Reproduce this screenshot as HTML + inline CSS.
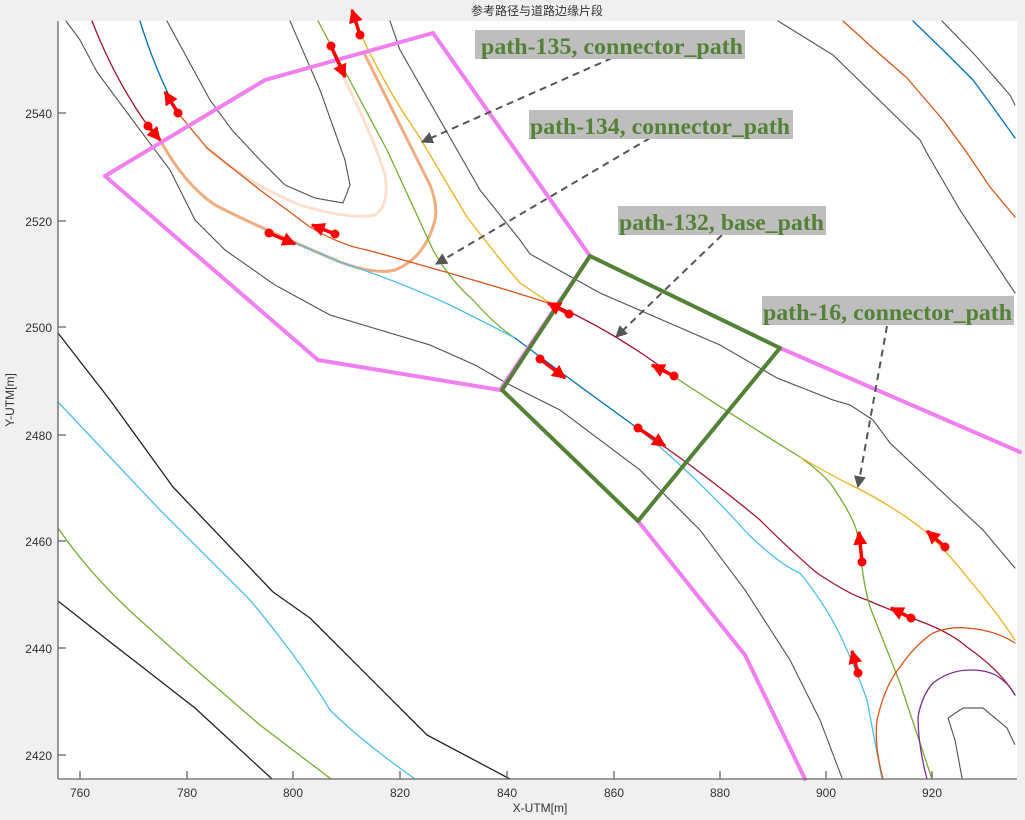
<!DOCTYPE html>
<html><head><meta charset="utf-8"><style>
html,body{margin:0;padding:0;background:#f0f0f0;}
svg{display:block;}
.t{font-family:"Liberation Sans","Noto Sans CJK SC",sans-serif;font-size:12px;fill:#333;}
.a{font-family:"Liberation Serif",serif;font-weight:bold;font-size:23px;fill:#538135;}
</style></head><body>
<svg width="1025" height="820" viewBox="0 0 1025 820" xmlns="http://www.w3.org/2000/svg">
<defs>
<marker id="ah" viewBox="0 0 10 10" refX="9" refY="5" markerWidth="4" markerHeight="4" orient="auto"><path d="M0,0 L10,5 L0,10 z" fill="#ff0000"/></marker>
<marker id="gh" viewBox="0 0 10 10" refX="9" refY="5" markerWidth="6" markerHeight="6" orient="auto"><path d="M0,0 L10,5 L0,10 z" fill="#555"/></marker>
</defs>
<rect x="0" y="0" width="1025" height="820" fill="#f0f0f0"/>
<rect x="58" y="21" width="959" height="758" fill="#fff"/>
<text x="537" y="15" text-anchor="middle" class="t" style="font-size:12px">参考路径与道路边缘片段</text>
<g fill="none" stroke-linejoin="round" stroke-linecap="round">
<g stroke="#555" stroke-width="1.2" stroke-dasharray="1.5 1">
<polyline points="66,21 80,40 97,72 140,130 170,170 195,220 225,250 275,285 330,315 380,330 430,345 475,365 510,385 560,410 600,440 640,470 700,530 745,590 790,660 820,720 842,778"/>
<polyline points="167,21 180,45 210,100 232,130 260,160 285,185 315,198 343,203 350,185 345,160 320,90 290,21"/>
<polyline points="390,21 400,50 440,120 480,190 520,240 530,254 600,293 720,345 777,378 833,400 850,405 873,420 890,443 940,490 983,530 1015,568"/>
<polyline points="778,21 833,55 920,140 928,155 960,210 1015,293"/>
<polyline points="942,21 975,55 1010,95 1015,105"/>
<polyline points="962,778 955,740 948,718 963,708 983,708 1007,728 1015,745"/>
</g>
<polyline stroke="#222" stroke-width="1.3" points="58,333 110,400 173,487 273,592 310,618 427,735 510,779"/>
<polyline stroke="#222" stroke-width="1.3" points="58,601 105,638 195,708 272,779"/>
<path stroke="#4dbeee" stroke-width="1.3" d="M58,402 L160,510 L250,600 Q300,660 330,710 Q360,740 415,779"/>
<path stroke="#77ac30" stroke-width="1.3" d="M58,528 Q90,575 140,620 Q190,665 260,725 L331,779"/>
<polyline stroke="#d95319" stroke-width="1.3" points="843,21 875,50 907,78 943,120 965,150 990,187 1015,217"/>
<polyline stroke="#0072bd" stroke-width="1.3" points="913,21 945,52 973,80 995,110 1015,138"/>
<path stroke="#fbe0d0" stroke-width="3" d="M207,148 Q250,185 300,205 Q350,220 375,215 Q390,205 385,175 Q375,140 340,70"/>
<path stroke="#f0ad80" stroke-width="3" d="M160,140 Q185,185 215,205 Q260,228 340,262 Q375,275 395,270 Q425,258 435,220 Q438,205 430,185 L365,55"/>
<path stroke="#a2142f" stroke-width="1.3" d="M92,21 Q115,80 148,126"/>
<path stroke="#0072bd" stroke-width="1.3" d="M140,21 Q155,70 178,113"/>
<path stroke="#d95319" stroke-width="1.3" d="M178,113 L207,148 L260,190 L310,227 Q340,245 367,250 Q440,270 507,290 L555,305"/>
<path stroke="#77ac30" stroke-width="1.3" d="M318,21 Q360,100 387,150 Q410,200 433,250 Q450,280 473,300 Q495,325 515,338"/>
<path stroke="#edb120" stroke-width="1.3" d="M362,37 Q390,95 417,133 Q445,180 467,217 Q500,260 520,283 L550,303"/>
<path stroke="#4dbeee" stroke-width="1.3" d="M265,230 Q300,245 340,262 Q400,282 450,305 Q490,325 515,338"/>
<path stroke="#0072bd" stroke-width="1.3" d="M515,338 Q560,372 640,430"/>
<path stroke="#4dbeee" stroke-width="1.3" d="M640,430 Q700,480 747,533 Q780,565 800,573 Q830,610 847,650 Q862,685 867,700 L882,779"/>
<path stroke="#a2142f" stroke-width="1.3" d="M555,305 Q620,335 673,376"/>
<path stroke="#a2142f" stroke-width="1.3" d="M640,430 Q700,470 760,520 Q790,550 817,573 Q850,595 867,600 Q890,610 917,620 Q950,632 967,647 Q1000,670 1015,695"/>
<path stroke="#77ac30" stroke-width="1.3" d="M673,376 Q740,420 800,457 Q825,475 833,487 Q855,520 857,533 Q862,560 862,567 Q865,590 870,607 L900,683 L932,779"/>
<path stroke="#edb120" stroke-width="1.3" d="M800,457 Q830,475 857,488 Q900,510 927,533 Q950,555 967,577 Q995,610 1015,640"/>
<path stroke="#d95319" stroke-width="1.3" d="M883,779 Q874,745 877,720 Q885,685 900,667 Q915,645 933,633 Q950,626 967,628 Q995,630 1015,643"/>
<path stroke="#7e2f8e" stroke-width="1.3" d="M927,779 Q918,745 918,717 Q922,695 933,683 Q950,670 970,670 Q990,670 1000,678 Q1010,685 1015,695"/>
<polyline stroke="#f07ff0" stroke-width="4" points="105,176 265,80 433,33 590,256"/>
<polyline stroke="#f07ff0" stroke-width="4" points="105,176 318,360 500,390 590,256"/>
<polyline stroke="#f07ff0" stroke-width="4" points="780,348 1020,452"/>
<polyline stroke="#f07ff0" stroke-width="4" points="638,521 745,655 805,779"/>
<polygon stroke="#538135" stroke-width="4" points="590,256 780,348 638,521 502,390"/>
</g>
<g stroke="#ff0000" stroke-width="3.5" fill="#ff0000" marker-end="url(#ah)">
<line x1="360" y1="35" x2="352" y2="10"/>
<line x1="331" y1="46" x2="345" y2="77"/>
<line x1="178" y1="113" x2="165" y2="92"/>
<line x1="148" y1="126" x2="160" y2="140"/>
<line x1="269" y1="233" x2="295" y2="244"/>
<line x1="335" y1="234" x2="312" y2="225"/>
<line x1="569" y1="314" x2="548" y2="303"/>
<line x1="540" y1="359" x2="565" y2="378"/>
<line x1="674" y1="376" x2="652" y2="365"/>
<line x1="638" y1="428" x2="665" y2="446"/>
<line x1="862" y1="562" x2="859" y2="532"/>
<line x1="945" y1="547" x2="927" y2="531"/>
<line x1="911" y1="618" x2="891" y2="608"/>
<line x1="858" y1="673" x2="852" y2="651"/>
</g>
<g fill="#ff0000">
<circle cx="360" cy="35" r="4.5"/><circle cx="331" cy="46" r="4.5"/><circle cx="178" cy="113" r="4.5"/><circle cx="148" cy="126" r="4.5"/>
<circle cx="269" cy="233" r="4.5"/><circle cx="335" cy="234" r="4.5"/><circle cx="569" cy="314" r="4.5"/><circle cx="540" cy="359" r="4.5"/>
<circle cx="674" cy="376" r="4.5"/><circle cx="638" cy="428" r="4.5"/><circle cx="862" cy="562" r="4.5"/><circle cx="945" cy="547" r="4.5"/>
<circle cx="911" cy="618" r="4.5"/><circle cx="858" cy="673" r="4.5"/>
</g>
<g stroke="#555" stroke-width="2" stroke-dasharray="7 5" fill="none" marker-end="url(#gh)">
<line x1="612" y1="58" x2="422" y2="142"/>
<line x1="650" y1="138" x2="436" y2="264"/>
<line x1="722" y1="235" x2="616" y2="337"/>
<line x1="887" y1="326" x2="858" y2="487"/>
</g>
<g>
<rect x="475" y="30" width="270" height="29" fill="#bebebe"/>
<text x="481" y="54" class="a" textLength="262" lengthAdjust="spacingAndGlyphs">path-135, connector_path</text>
<rect x="529" y="110" width="264" height="29" fill="#bebebe"/>
<text x="530" y="134" class="a" textLength="260" lengthAdjust="spacingAndGlyphs">path-134, connector_path</text>
<rect x="618" y="206" width="208" height="29" fill="#bebebe"/>
<text x="619" y="230" class="a" textLength="205" lengthAdjust="spacingAndGlyphs">path-132, base_path</text>
<rect x="762" y="296" width="252" height="29" fill="#bebebe"/>
<text x="763" y="320" class="a" textLength="249" lengthAdjust="spacingAndGlyphs">path-16, connector_path</text>
</g>
<g stroke="#666" stroke-width="1.3">
<line x1="58" y1="21" x2="58" y2="779"/>
<line x1="58" y1="779" x2="1017" y2="779"/>
<line x1="80" y1="779" x2="80" y2="771"/><line x1="187" y1="779" x2="187" y2="771"/><line x1="293" y1="779" x2="293" y2="771"/><line x1="400" y1="779" x2="400" y2="771"/><line x1="507" y1="779" x2="507" y2="771"/><line x1="614" y1="779" x2="614" y2="771"/><line x1="720" y1="779" x2="720" y2="771"/><line x1="826" y1="779" x2="826" y2="771"/><line x1="932" y1="779" x2="932" y2="771"/>
<line x1="58" y1="113" x2="66" y2="113"/><line x1="58" y1="221" x2="66" y2="221"/><line x1="58" y1="327" x2="66" y2="327"/><line x1="58" y1="435" x2="66" y2="435"/><line x1="58" y1="541" x2="66" y2="541"/><line x1="58" y1="648" x2="66" y2="648"/><line x1="58" y1="755" x2="66" y2="755"/>
</g>
<g class="t" text-anchor="middle">
<text x="80" y="797">760</text><text x="187" y="797">780</text><text x="293" y="797">800</text><text x="400" y="797">820</text><text x="507" y="797">840</text><text x="614" y="797">860</text><text x="720" y="797">880</text><text x="826" y="797">900</text><text x="932" y="797">920</text>
<text x="540" y="812">X-UTM[m]</text>
</g>
<g class="t" text-anchor="end">
<text x="52" y="118">2540</text><text x="52" y="226">2520</text><text x="52" y="332">2500</text><text x="52" y="440">2480</text><text x="52" y="546">2460</text><text x="52" y="653">2440</text><text x="52" y="760">2420</text>
</g>
<text class="t" transform="translate(14,400) rotate(-90)" text-anchor="middle">Y-UTM[m]</text>
</svg>
</body></html>
